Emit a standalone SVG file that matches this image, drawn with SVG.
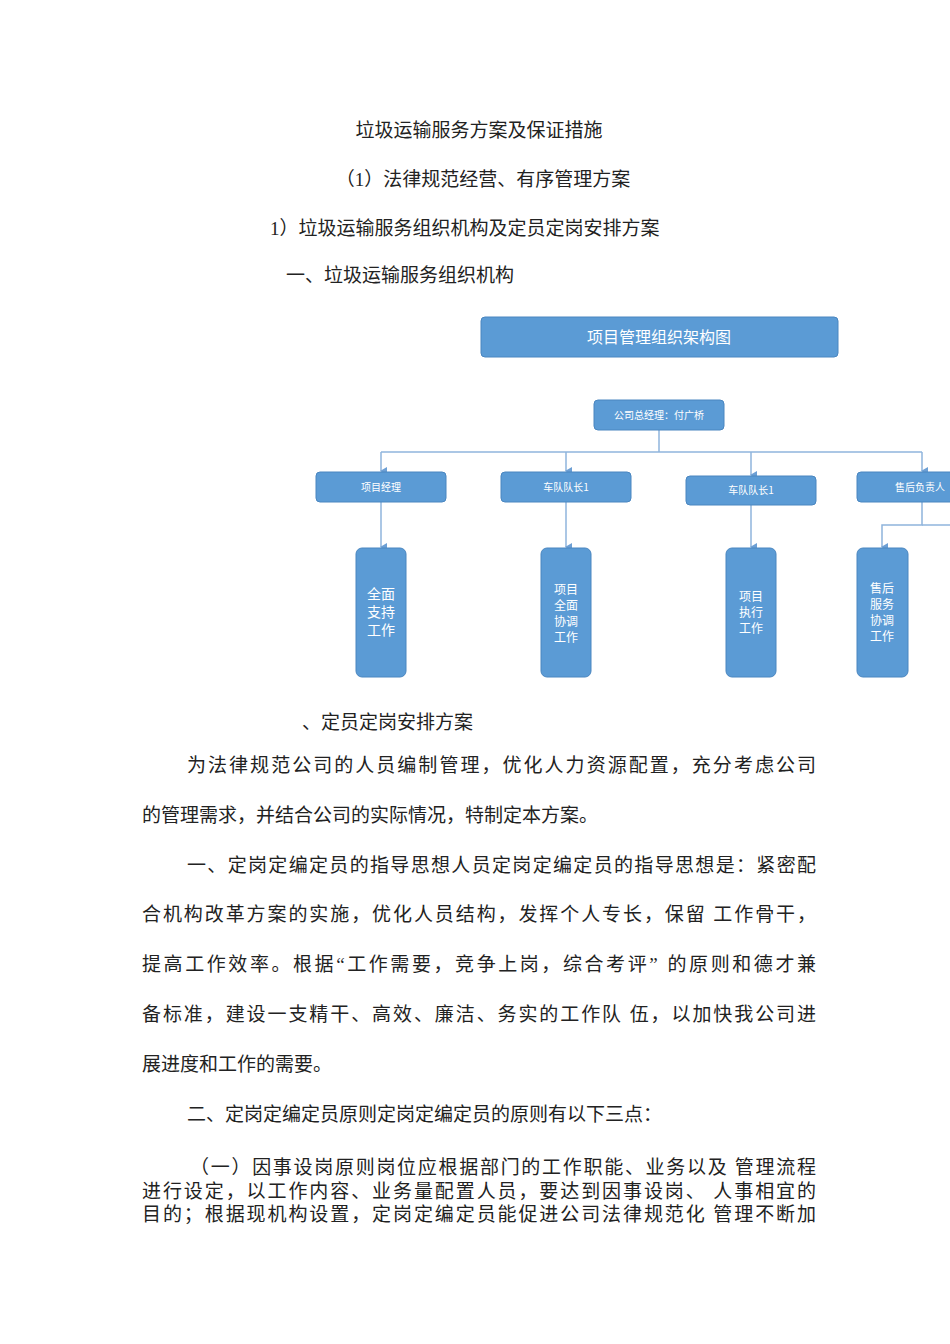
<svg xmlns="http://www.w3.org/2000/svg" width="950" height="1344" viewBox="0 0 950 1344">
<style>
.t{font-family:"Liberation Serif","Noto Sans CJK SC",serif;font-size:19px;fill:#222}
.b{fill:#5b9bd5;stroke:#4a86c0;stroke-width:1}
.w{font-family:"Noto Sans CJK SC",sans-serif;fill:#fff;text-anchor:middle}
.c{stroke:#8fb4dc;stroke-width:1.5;fill:none}
</style>
<defs><marker id="a" markerWidth="8" markerHeight="8" refX="4" refY="6" orient="auto" markerUnits="userSpaceOnUse"><path d="M0,0 L8,0 L4,7 z" fill="#6d9fd4"/></marker></defs>
<rect width="950" height="1344" fill="#fff"/>
<text class="t" x="479" y="137" text-anchor="middle">垃圾运输服务方案及保证措施</text>
<text class="t" x="483" y="186" text-anchor="middle">（1）法律规范经营、有序管理方案</text>
<text class="t" x="270" y="235">1）垃圾运输服务组织机构及定员定岗安排方案</text>
<text class="t" x="286" y="282">一、垃圾运输服务组织机构</text>
<g id="title"><rect class="b" x="481" y="317" width="357" height="40" rx="4"/><text class="w" x="659" y="343" font-size="16">项目管理组织架构图</text></g>
<g id="connectors">
<path class="c" d="M659,430 V452"/>
<path class="c" d="M381,452 H922"/>
<path class="c" d="M381,452 V471" marker-end="url(#a)"/>
<path class="c" d="M566,452 V471" marker-end="url(#a)"/>
<path class="c" d="M751,452 V475" marker-end="url(#a)"/>
<path class="c" d="M922,452 V471" marker-end="url(#a)"/>
<path class="c" d="M381,502 V547" marker-end="url(#a)"/>
<path class="c" d="M566,502 V547" marker-end="url(#a)"/>
<path class="c" d="M751,505 V547" marker-end="url(#a)"/>
<path class="c" d="M922,502 V525 H882 V547" marker-end="url(#a)"/>
<path class="c" d="M922,525 H950"/>
</g>
<g id="gm"><rect class="b" x="594" y="400" width="130" height="30" rx="4"/><text class="w" x="659" y="419" font-size="10">公司总经理：付广桥</text></g>
<g id="pm"><rect class="b" x="316" y="472" width="130" height="30" rx="4"/><text class="w" x="381" y="491" font-size="10">项目经理</text></g>
<g id="cd1"><rect class="b" x="501" y="472" width="130" height="30" rx="4"/><text class="w" x="566" y="491" font-size="10">车队队长1</text></g>
<g id="cd2"><rect class="b" x="686" y="476" width="130" height="29" rx="4"/><text class="w" x="751" y="494" font-size="10">车队队长1</text></g>
<g id="sh"><rect class="b" x="857" y="472" width="110" height="30" rx="4"/><text class="w" x="920" y="491" font-size="10">售后负责人</text></g>
<g id="v1"><rect class="b" x="356" y="548" width="50" height="129" rx="6"/><text class="w" font-size="14"><tspan x="381" y="599">全面</tspan><tspan x="381" y="617">支持</tspan><tspan x="381" y="635">工作</tspan></text></g>
<g id="v2"><rect class="b" x="541" y="548" width="50" height="129" rx="6"/><text class="w" font-size="12"><tspan x="566" y="594">项目</tspan><tspan x="566" y="610">全面</tspan><tspan x="566" y="626">协调</tspan><tspan x="566" y="642">工作</tspan></text></g>
<g id="v3"><rect class="b" x="726" y="548" width="50" height="129" rx="6"/><text class="w" font-size="12"><tspan x="751" y="601">项目</tspan><tspan x="751" y="617">执行</tspan><tspan x="751" y="633">工作</tspan></text></g>
<g id="v4"><rect class="b" x="857" y="548" width="51" height="129" rx="6"/><text class="w" font-size="12"><tspan x="882" y="593">售后</tspan><tspan x="882" y="609">服务</tspan><tspan x="882" y="625">协调</tspan><tspan x="882" y="641">工作</tspan></text></g>
<text class="t" x="302" y="729">、定员定岗安排方案</text>
<text class="t" x="187" y="772" textLength="629">为法律规范公司的人员编制管理，优化人力资源配置，充分考虑公司</text>
<text class="t" x="142" y="822">的管理需求，并结合公司的实际情况，特制定本方案。</text>
<text class="t" x="187" y="872" textLength="629">一、定岗定编定员的指导思想人员定岗定编定员的指导思想是：紧密配</text>
<text class="t" x="142" y="921" textLength="674" xml:space="preserve">合机构改革方案的实施，优化人员结构，发挥个人专长，保留 工作骨干，</text>
<text class="t" x="142" y="971" textLength="674" xml:space="preserve">提高工作效率。根据“工作需要，竞争上岗，综合考评” 的原则和德才兼</text>
<text class="t" x="142" y="1021" textLength="674" xml:space="preserve">备标准，建设一支精干、高效、廉洁、务实的工作队 伍，以加快我公司进</text>
<text class="t" x="142" y="1071">展进度和工作的需要。</text>
<text class="t" x="187" y="1121">二、定岗定编定员原则定岗定编定员的原则有以下三点：</text>
<text class="t" x="190" y="1174" textLength="626" xml:space="preserve">（一）因事设岗原则岗位应根据部门的工作职能、业务以及 管理流程</text>
<text class="t" x="142" y="1198" textLength="674" xml:space="preserve">进行设定，以工作内容、业务量配置人员，要达到因事设岗、 人事相宜的</text>
<text class="t" x="142" y="1221" textLength="674" xml:space="preserve">目的；根据现机构设置，定岗定编定员能促进公司法律规范化 管理不断加</text>
</svg>
